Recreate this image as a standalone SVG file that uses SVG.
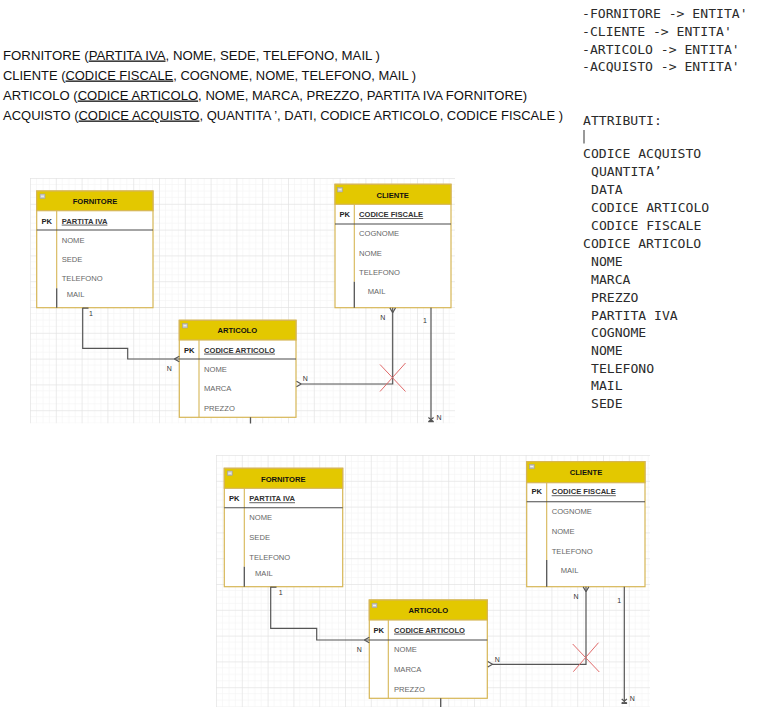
<svg xmlns="http://www.w3.org/2000/svg" width="768" height="725" viewBox="0 0 768 725">
<style>
.doc{font-family:"Liberation Sans",Arial,sans-serif;font-size:13px;fill:#111}
.mono{font-family:"DejaVu Sans Mono","Liberation Mono",monospace;font-size:13.1px;fill:#2b2b2b}
.u{text-decoration:underline}
.tb{fill:#fff;stroke:#d6b656;stroke-width:1.2}
.hd{fill:#e3c800;stroke:#d6b656;stroke-width:1.2}
.col{stroke:#d6b656;stroke-width:1.1}
.sep{stroke:#4a4a4a;stroke-width:1.1}
.dk{stroke:#555;stroke-width:1.3}
.ico{fill:#c8c8c8;stroke:#9a9a9a;stroke-width:0.5}
.icl{stroke:#fff;stroke-width:0.8}
.ht{font-family:"Liberation Sans",Arial,sans-serif;font-size:7.6px;font-weight:bold;fill:#111;text-anchor:middle}
.pk{font-family:"Liberation Sans",Arial,sans-serif;font-size:7.6px;font-weight:bold;fill:#222;text-anchor:middle}
.key{font-family:"Liberation Sans",Arial,sans-serif;font-size:7.6px;font-weight:bold;fill:#333;text-decoration:underline}
.rt{font-family:"Liberation Sans",Arial,sans-serif;font-size:7.6px;fill:#666}
.cn{fill:none;stroke:#555;stroke-width:1.2}
.x{fill:none;stroke:#e06a6a;stroke-width:1}
.lb{font-family:"Liberation Sans",Arial,sans-serif;font-size:7px;fill:#333;text-anchor:middle}
</style>
<defs>
<pattern id="grid1" x="30" y="178" width="25.8" height="25.8" patternUnits="userSpaceOnUse">
<path d="M6.45 0V25.8M12.9 0V25.8M19.35 0V25.8M0 6.45H25.8M0 12.9H25.8M0 19.35H25.8" stroke="#f4f4f4" stroke-width="0.6" fill="none"/>
<path d="M0.4 0V25.8M0 0.4H25.8" stroke="#e2e2e2" stroke-width="0.8" fill="none"/>
</pattern>
<pattern id="grid2" x="216" y="455" width="25.8" height="25.8" patternUnits="userSpaceOnUse">
<path d="M6.45 0V25.8M12.9 0V25.8M19.35 0V25.8M0 6.45H25.8M0 12.9H25.8M0 19.35H25.8" stroke="#f4f4f4" stroke-width="0.6" fill="none"/>
<path d="M0.4 0V25.8M0 0.4H25.8" stroke="#e2e2e2" stroke-width="0.8" fill="none"/>
</pattern>
<clipPath id="clip1"><rect x="30" y="178" width="425" height="245.5"/></clipPath>
<clipPath id="clip2"><rect x="216" y="455" width="434" height="252"/></clipPath>
</defs>
<rect width="768" height="725" fill="#fff"/>

<g id="schema-text">
<text class="doc" x="3" y="59.5" textLength="377" lengthAdjust="spacingAndGlyphs">FORNITORE (<tspan class="u">PARTITA IVA</tspan>, NOME, SEDE, TELEFONO, MAIL )</text>
<text class="doc" x="3" y="79.5" textLength="413" lengthAdjust="spacingAndGlyphs">CLIENTE (<tspan class="u">CODICE FISCALE</tspan>, COGNOME, NOME, TELEFONO, MAIL )</text>
<text class="doc" x="3" y="99.5" textLength="524" lengthAdjust="spacingAndGlyphs">ARTICOLO (<tspan class="u">CODICE ARTICOLO</tspan>, NOME, MARCA, PREZZO, PARTITA IVA FORNITORE)</text>
<text class="doc" x="3" y="119.5" textLength="560" lengthAdjust="spacingAndGlyphs">ACQUISTO (<tspan class="u">CODICE ACQUISTO</tspan>, QUANTITA ’, DATI, CODICE ARTICOLO, CODICE FISCALE )</text>
</g>

<g id="entity-list">
<text class="mono" x="582" y="18">-FORNITORE -&gt; ENTITA'</text>
<text class="mono" x="582" y="36">-CLIENTE -&gt; ENTITA'</text>
<text class="mono" x="582" y="53.5">-ARTICOLO -&gt; ENTITA'</text>
<text class="mono" x="582" y="71">-ACQUISTO -&gt; ENTITA'</text>
</g>

<g id="attribute-list">
<text class="mono" x="583" y="125.4">ATTRIBUTI:</text>
<line x1="584" y1="130" x2="584" y2="143.5" stroke="#555" stroke-width="1.2"/>
<text class="mono" x="583" y="158">CODICE ACQUISTO</text>
<text class="mono" x="591" y="176">QUANTITA’</text>
<text class="mono" x="591" y="194">DATA</text>
<text class="mono" x="591" y="212">CODICE ARTICOLO</text>
<text class="mono" x="591" y="230">CODICE FISCALE</text>
<text class="mono" x="583" y="248">CODICE ARTICOLO</text>
<text class="mono" x="591" y="266">NOME</text>
<text class="mono" x="591" y="284">MARCA</text>
<text class="mono" x="591" y="302">PREZZO</text>
<text class="mono" x="591" y="319.7">PARTITA IVA</text>
<text class="mono" x="591" y="337">COGNOME</text>
<text class="mono" x="591" y="355">NOME</text>
<text class="mono" x="591" y="372.5">TELEFONO</text>
<text class="mono" x="591" y="390">MAIL</text>
<text class="mono" x="591" y="408">SEDE</text>
</g>

<g clip-path="url(#clip1)">
<rect x="30" y="178" width="425" height="245.5" fill="url(#grid1)"/>

<g id="fornitore1">
<rect class="tb" x="36.7" y="191" width="116.3" height="116.7"/>
<rect class="hd" x="36.7" y="191" width="116.3" height="19.7"/>
<rect class="ico" x="40" y="194" width="5" height="4.5"/><line class="icl" x1="41" y1="196.2" x2="44" y2="196.2"/>
<line class="col" x1="56.7" y1="210.7" x2="56.7" y2="288.3"/>
<line class="sep" x1="36.7" y1="230" x2="153" y2="230"/>
<line class="dk" x1="56.7" y1="288.3" x2="56.7" y2="307.7"/>
<text class="ht" x="95" y="203.7">FORNITORE</text>
<text class="pk" x="46.7" y="223.7">PK</text>
<text class="key" x="61.7" y="223.7">PARTITA IVA</text>
<text class="rt" x="61.7" y="243">NOME</text>
<text class="rt" x="61.7" y="262">SEDE</text>
<text class="rt" x="61.7" y="281.4">TELEFONO</text>
<text class="rt" x="66.7" y="297">MAIL</text>
</g>

<g id="cliente1">
<rect class="tb" x="335" y="184.3" width="116" height="123.4"/>
<rect class="hd" x="335" y="184.3" width="116" height="20"/>
<rect class="ico" x="337.5" y="187.5" width="5" height="4.5"/><line class="icl" x1="338.5" y1="189.7" x2="341.5" y2="189.7"/>
<line class="col" x1="354.3" y1="204.3" x2="354.3" y2="281.7"/>
<line class="sep" x1="335" y1="224" x2="451" y2="224"/>
<line class="dk" x1="354.3" y1="281.7" x2="354.3" y2="307.7"/>
<text class="ht" x="392.7" y="197.7">CLIENTE</text>
<text class="pk" x="344.7" y="217">PK</text>
<text class="key" x="359" y="217">CODICE FISCALE</text>
<text class="rt" x="359" y="236">COGNOME</text>
<text class="rt" x="359" y="255.7">NOME</text>
<text class="rt" x="359" y="275">TELEFONO</text>
<text class="rt" x="367.7" y="294.4">MAIL</text>
</g>

<g id="articolo1">
<rect class="tb" x="179.3" y="320.3" width="116.7" height="97"/>
<rect class="hd" x="179.3" y="320.3" width="116.7" height="19.7"/>
<rect class="ico" x="182.5" y="323.5" width="5" height="4.5"/><line class="icl" x1="183.5" y1="325.7" x2="186.5" y2="325.7"/>
<line class="col" x1="199" y1="340" x2="199" y2="417.3"/>
<line class="sep" x1="179.3" y1="359" x2="296" y2="359"/>
<text class="ht" x="237.3" y="333.4">ARTICOLO</text>
<text class="pk" x="189.2" y="352.7">PK</text>
<text class="key" x="204" y="352.7">CODICE ARTICOLO</text>
<text class="rt" x="204" y="371.7">NOME</text>
<text class="rt" x="204" y="391">MARCA</text>
<text class="rt" x="204" y="411">PREZZO</text>
</g>

<g id="connectors1">
<path class="cn" d="M82.7 307.7V348.3H127.7V359H179.3"/>
<path class="cn" d="M82.7 308.2H88.5"/>
<path class="cn" d="M174.3 359L179.3 356.2M174.3 359L179.3 361.8"/>
<path class="cn" d="M300.7 384H392.7V307.7"/>
<path class="cn" d="M301.2 384L296.5 381.3M301.2 384L296.5 386.7"/>
<path class="cn" d="M392.7 312.7L389.9 307.9M392.7 312.7L395.5 307.9"/>
<path class="cn" d="M431 307.7V421.7"/>
<path class="cn" d="M428.2 421.7H433.8M428.4 417.5L433.6 421.7M433.6 417.5L428.4 421.7"/>
<path class="dk" d="M250.5 417.3V424"/>
<path class="x" d="M380 364.5L405.5 391.5M405.5 363L380 391.5"/>
<text class="lb" x="91" y="316">1</text>
<text class="lb" x="169.3" y="371">N</text>
<text class="lb" x="382.7" y="320.3">N</text>
<text class="lb" x="305.3" y="381">N</text>
<text class="lb" x="425" y="322.7">1</text>
<text class="lb" x="439" y="420">N</text>
</g>
</g>

<g clip-path="url(#clip2)">
<rect x="216" y="455" width="434" height="252" fill="url(#grid2)"/>

<g id="fornitore2">
<rect class="tb" x="224.3" y="468.3" width="118.4" height="118.4"/>
<rect class="hd" x="224.3" y="468.3" width="118.4" height="20"/>
<rect class="ico" x="227.3" y="471" width="5" height="4.5"/><line class="icl" x1="228.3" y1="473.2" x2="231.3" y2="473.2"/>
<line class="col" x1="244.3" y1="488.3" x2="244.3" y2="566.7"/>
<line class="sep" x1="224.3" y1="507.7" x2="342.7" y2="507.7"/>
<line class="dk" x1="244.3" y1="566.7" x2="244.3" y2="586.7"/>
<text class="ht" x="283.3" y="481.7">FORNITORE</text>
<text class="pk" x="234.3" y="501.4">PK</text>
<text class="key" x="249.3" y="501.4">PARTITA IVA</text>
<text class="rt" x="249.3" y="520.4">NOME</text>
<text class="rt" x="249.3" y="540.4">SEDE</text>
<text class="rt" x="249.3" y="560">TELEFONO</text>
<text class="rt" x="255" y="576">MAIL</text>
</g>

<g id="cliente2">
<rect class="tb" x="526.7" y="461.7" width="118.3" height="125"/>
<rect class="hd" x="526.7" y="461.7" width="118.3" height="21"/>
<rect class="ico" x="529.3" y="464.3" width="5" height="4.5"/><line class="icl" x1="530.3" y1="466.5" x2="533.3" y2="466.5"/>
<line class="col" x1="546.7" y1="482.7" x2="546.7" y2="560"/>
<line class="sep" x1="526.7" y1="501.7" x2="645" y2="501.7"/>
<line class="dk" x1="546.7" y1="560" x2="546.7" y2="586.7"/>
<text class="ht" x="586" y="475">CLIENTE</text>
<text class="pk" x="536.7" y="494.4">PK</text>
<text class="key" x="551.7" y="494.4">CODICE FISCALE</text>
<text class="rt" x="551.7" y="514.4">COGNOME</text>
<text class="rt" x="551.7" y="533.7">NOME</text>
<text class="rt" x="551.7" y="553.7">TELEFONO</text>
<text class="rt" x="560.7" y="572.7">MAIL</text>
</g>

<g id="articolo2">
<rect class="tb" x="369.3" y="600" width="118" height="98.3"/>
<rect class="hd" x="369.3" y="600" width="118" height="20"/>
<rect class="ico" x="372" y="603.2" width="5" height="4.5"/><line class="icl" x1="373" y1="605.4" x2="376" y2="605.4"/>
<line class="col" x1="388.3" y1="620" x2="388.3" y2="698.3"/>
<line class="sep" x1="369.3" y1="640" x2="487.3" y2="640"/>
<text class="ht" x="428.3" y="612.7">ARTICOLO</text>
<text class="pk" x="378.8" y="632.7">PK</text>
<text class="key" x="394" y="632.7">CODICE ARTICOLO</text>
<text class="rt" x="394" y="652">NOME</text>
<text class="rt" x="394" y="671.7">MARCA</text>
<text class="rt" x="394" y="691.7">PREZZO</text>
</g>

<g id="connectors2">
<path class="cn" d="M270.7 586.7V628.3H316.7V640H369.3"/>
<path class="cn" d="M270.7 587.2H276.5"/>
<path class="cn" d="M364.3 640L369.3 637.2M364.3 640L369.3 642.8"/>
<path class="cn" d="M492 664.3H586V586.7"/>
<path class="cn" d="M492.5 664.3L487.8 661.6M492.5 664.3L487.8 667"/>
<path class="cn" d="M586 591.7L583.2 586.9M586 591.7L588.8 586.9"/>
<path class="cn" d="M624.3 586.7V703.3"/>
<path class="cn" d="M621.5 703.3H627.1M621.7 699L626.9 703.3M626.9 699L621.7 703.3"/>
<path class="dk" d="M440.7 698.3V707"/>
<path class="x" d="M572.7 644L599.3 672M598.5 642.7L573.3 671.7"/>
<text class="lb" x="280.7" y="595">1</text>
<text class="lb" x="359.3" y="652">N</text>
<text class="lb" x="576" y="598.7">N</text>
<text class="lb" x="497.3" y="661.7">N</text>
<text class="lb" x="619.3" y="602.7">1</text>
<text class="lb" x="632.3" y="701">N</text>
</g>
</g>
</svg>
